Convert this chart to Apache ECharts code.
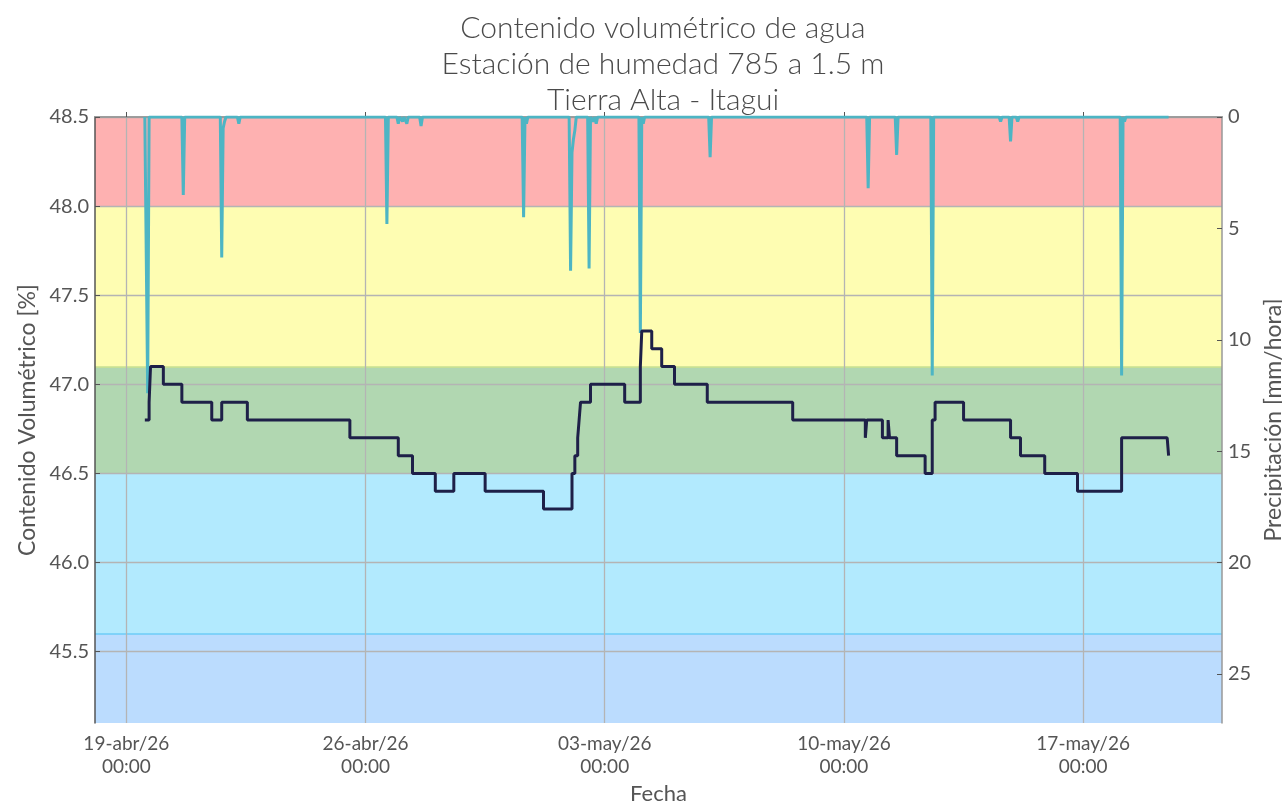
<!DOCTYPE html>
<html>
<head>
<meta charset="utf-8">
<script src="https://cdn.jsdelivr.net/npm/echarts@6/dist/echarts.min.js"></script>
<style>
  html, body { margin: 0; padding: 0; background: #fff; }
  #chart { width: 1282px; height: 807px; }
</style>
</head>
<body>
<div id="chart"></div>
<script>
// humedad (contenido volumétrico, %) - cambios de nivel
const humTimes = [
  '2026-04-19 13:00', '2026-04-19 16:00', '2026-04-19 17:00', '2026-04-20 02:00',
  '2026-04-20 15:00', '2026-04-21 12:00', '2026-04-21 19:00', '2026-04-22 13:00',
  '2026-04-25 13:00', '2026-04-26 23:00', '2026-04-27 09:00', '2026-04-28 01:00',
  '2026-04-28 14:00', '2026-04-29 12:00', '2026-05-01 05:00', '2026-05-02 01:00',
  '2026-05-02 03:00', '2026-05-02 05:00', '2026-05-02 06:00', '2026-05-02 07:00',
  '2026-05-02 14:00', '2026-05-03 14:00', '2026-05-04 01:00', '2026-05-04 02:00',
  '2026-05-04 09:00', '2026-05-04 16:00', '2026-05-05 01:00', '2026-05-06 00:00',
  '2026-05-08 12:00', '2026-05-10 15:00', '2026-05-10 16:00', '2026-05-11 03:00',
  '2026-05-11 07:00', '2026-05-11 08:00', '2026-05-11 13:00', '2026-05-12 09:00',
  '2026-05-12 14:00', '2026-05-12 16:00', '2026-05-13 12:00', '2026-05-14 21:00',
  '2026-05-15 04:00', '2026-05-15 21:00', '2026-05-16 20:00', '2026-05-18 03:00',
  '2026-05-19 11:00', '2026-05-19 12:00'
];
const humValues = [
  46.8, 46.9, 47.1, 47.0,
  46.9, 46.8, 46.9, 46.8,
  46.7, 46.6, 46.5, 46.4,
  46.5, 46.4, 46.3, 46.5,
  46.6, 46.7, 46.8, 46.9,
  47.0, 46.9, 47.1, 47.3,
  47.2, 47.1, 47.0, 46.9,
  46.8, 46.7, 46.8, 46.7,
  46.8, 46.7, 46.6, 46.5,
  46.8, 46.9, 46.8, 46.7,
  46.6, 46.5, 46.4, 46.7,
  46.7, 46.6
];

// precipitación (mm/hora)
const rainTimes = [
  '2026-04-19 13:00', '2026-04-19 14:00', '2026-04-19 15:00', '2026-04-19 16:00',
  '2026-04-20 15:00', '2026-04-20 16:00', '2026-04-20 17:00',
  '2026-04-21 18:00', '2026-04-21 19:00', '2026-04-21 20:00', '2026-04-21 21:00', '2026-04-21 22:00',
  '2026-04-22 06:00', '2026-04-22 07:00', '2026-04-22 08:00',
  '2026-04-26 14:00', '2026-04-26 15:00', '2026-04-26 16:00',
  '2026-04-26 22:00', '2026-04-26 23:00', '2026-04-27 00:00', '2026-04-27 02:00', '2026-04-27 03:00',
  '2026-04-27 04:00', '2026-04-27 05:00', '2026-04-27 06:00',
  '2026-04-27 14:00', '2026-04-27 15:00', '2026-04-27 16:00',
  '2026-04-30 14:00', '2026-04-30 15:00', '2026-04-30 16:00', '2026-04-30 17:00', '2026-04-30 18:00',
  '2026-05-01 23:00', '2026-05-02 00:00', '2026-05-02 01:00', '2026-05-02 02:00', '2026-05-02 03:00', '2026-05-02 04:00',
  '2026-05-02 12:00', '2026-05-02 13:00', '2026-05-02 14:00', '2026-05-02 16:00', '2026-05-02 17:00', '2026-05-02 18:00', '2026-05-02 19:00',
  '2026-05-04 00:00', '2026-05-04 01:00', '2026-05-04 02:00', '2026-05-04 03:00', '2026-05-04 04:00',
  '2026-05-06 01:00', '2026-05-06 02:00', '2026-05-06 03:00',
  '2026-05-10 16:00', '2026-05-10 17:00', '2026-05-10 18:00',
  '2026-05-11 12:00', '2026-05-11 13:00', '2026-05-11 14:00',
  '2026-05-12 13:00', '2026-05-12 14:00', '2026-05-12 15:00',
  '2026-05-14 13:00', '2026-05-14 14:00', '2026-05-14 15:00',
  '2026-05-14 20:00', '2026-05-14 21:00', '2026-05-14 22:00',
  '2026-05-15 01:00', '2026-05-15 02:00', '2026-05-15 03:00',
  '2026-05-18 02:00', '2026-05-18 03:00', '2026-05-18 04:00', '2026-05-18 05:00', '2026-05-18 06:00',
  '2026-05-19 12:00'
];
const rainValues = [
  0, 0, 12.4, 0,
  0, 3.5, 0,
  0, 6.3, 0.5, 0.2, 0,
  0, 0.3, 0,
  0, 4.8, 0,
  0, 0.3, 0, 0.2, 0,
  0, 0.3, 0,
  0, 0.4, 0,
  0, 4.5, 0, 0.3, 0,
  0, 6.9, 1.6, 1.0, 0.6, 0,
  0, 6.8, 0, 0.2, 0, 0.3, 0,
  0, 9.7, 0, 0.3, 0,
  0, 1.8, 0,
  0, 3.2, 0,
  0, 1.7, 0,
  0, 11.6, 0,
  0, 0.2, 0,
  0, 1.1, 0,
  0, 0.2, 0,
  0, 11.6, 0, 0.2, 0,
  0
];

// ejes
const xTickDates = ['2026-04-19 00:00', '2026-04-26 00:00', '2026-05-03 00:00', '2026-05-10 00:00', '2026-05-17 00:00'];
const xMinDate = '2026-04-18 02:00';
const xMaxDate = '2026-05-21 01:30';
const leftTicks = [45.5, 46.0, 46.5, 47.0, 47.5, 48.0, 48.5];
const rightTicks = [0, 5, 10, 15, 20, 25];
const meses = ['ene', 'feb', 'mar', 'abr', 'may', 'jun', 'jul', 'ago', 'sep', 'oct', 'nov', 'dic'];

// franjas de alerta
const bandLimits = [45.1, 45.6, 46.5, 47.1, 48.0, 48.5];
const bandColors = ['#bbdcfe', '#b2eafe', '#b1d7b1', '#fefdb2', '#feb1b1'];

function toTime(s) {
  const [d, h] = s.split(' ');
  const [yy, mm, dd] = d.split('-').map(Number);
  const [hh, mi] = h.split(':').map(Number);
  return new Date(yy, mm - 1, dd, hh, mi).getTime();
}
function pad2(n) { return (n < 10 ? '0' : '') + n; }

const humData = humTimes.map((t, i) => [toTime(t), humValues[i]]);
const rainData = rainTimes.map((t, i) => [toTime(t), rainValues[i]]);
const xTicks = xTickDates.map(toTime);

const bandAreas = [];
for (let i = 0; i < bandColors.length; i++) {
  bandAreas.push([
    { yAxis: bandLimits[i], itemStyle: { color: bandColors[i] } },
    { yAxis: bandLimits[i + 1] }
  ]);
}

const fontFam = 'Lato, "Noto Sans", sans-serif';
const gray = '#555';

const chartNode = document.getElementById('chart');
const myChart = echarts.init(chartNode);
myChart.setOption({
  animation: false,
  textStyle: { fontFamily: fontFam },
  title: {
    text: 'Contenido volumétrico de agua\nEstación de humedad 785 a 1.5 m\nTierra Alta - Itagui',
    left: 658,
    top: 5,
    textAlign: 'center',
    textStyle: {
      fontFamily: fontFam,
      fontSize: 30,
      lineHeight: 36,
      fontWeight: 300,
      color: '#4a4a4a'
    }
  },
  grid: { left: 95, right: 60, top: 117, bottom: 84, outerBoundsMode: 'none', containLabel: false },
  xAxis: [
    {
      type: 'value',
      min: toTime(xMinDate),
      max: toTime(xMaxDate),
      z: 8,
      name: 'Fecha',
      nameLocation: 'middle',
      nameGap: 58,
      nameTextStyle: { fontSize: 22, color: gray, fontFamily: fontFam },
      axisLine: { show: true, lineStyle: { color: gray, width: 1.5 } },
      axisTick: { show: true, inside: true, length: 5, customValues: xTicks, lineStyle: { color: gray } },
      axisLabel: {
        customValues: xTicks,
        fontSize: 19,
        lineHeight: 23,
        color: gray,
        margin: 9,
        formatter: function (v) {
          const d = new Date(v);
          return pad2(d.getDate()) + '-' + meses[d.getMonth()] + '/' + String(d.getFullYear()).slice(2) +
            '\n' + pad2(d.getHours()) + ':' + pad2(d.getMinutes());
        }
      },
      splitLine: { show: true, lineStyle: { color: '#b4b4b4', width: 1.3 } }
    },
    {
      type: 'value',
      position: 'top',
      min: toTime(xMinDate),
      max: toTime(xMaxDate),
      z: 8,
      axisLine: { show: true, lineStyle: { color: '#aaa', width: 1.5 } },
      axisTick: { show: false },
      axisLabel: { show: false },
      splitLine: { show: false }
    }
  ],
  yAxis: [
    {
      type: 'value',
      min: 45.1,
      max: 48.5,
      z: 8,
      name: 'Contenido Volumétrico [%]',
      nameLocation: 'middle',
      nameRotate: 90,
      nameGap: 52,
      nameTextStyle: { fontSize: 23, color: gray, fontFamily: fontFam },
      axisLine: { show: true, lineStyle: { color: gray, width: 1.5 } },
      axisTick: { show: true, inside: true, length: 5, customValues: leftTicks, lineStyle: { color: gray } },
      axisLabel: {
        customValues: leftTicks,
        fontSize: 20,
        color: gray,
        margin: 6,
        formatter: v => v.toFixed(1)
      },
      splitLine: { show: true, lineStyle: { color: '#b4b4b4', width: 1.3 } }
    },
    {
      type: 'value',
      min: 0,
      max: 27.2,
      inverse: true,
      position: 'right',
      z: 8,
      name: 'Precipitación [mm/hora]',
      nameLocation: 'middle',
      nameRotate: 90,
      nameGap: 28,
      nameTextStyle: { fontSize: 23, color: gray, fontFamily: fontFam },
      axisLine: { show: true, lineStyle: { color: '#999', width: 1.5 } },
      axisTick: { show: true, inside: true, length: 5, customValues: rightTicks, lineStyle: { color: gray } },
      axisLabel: { customValues: rightTicks, fontSize: 20, color: gray, margin: 6 },
      splitLine: { show: false }
    }
  ],
  series: [
    {
      name: 'franjas',
      type: 'line',
      z: 0,
      xAxisIndex: 0,
      yAxisIndex: 0,
      data: humData,
      showSymbol: false,
      silent: true,
      lineStyle: { width: 0, opacity: 0 },
      markArea: { silent: true, z: 0, data: bandAreas },
      markLine: {
        silent: true,
        z: 0,
        symbol: 'none',
        label: { show: false },
        data: [
          { yAxis: 45.6, lineStyle: { color: '#6dcdf7', width: 1.5, type: 'solid' } },
          { yAxis: 47.1, lineStyle: { color: '#cde38c', width: 1.5, type: 'solid' } }
        ]
      }
    },
    {
      name: 'Precipitación',
      type: 'line',
      z: 10,
      xAxisIndex: 0,
      yAxisIndex: 1,
      data: rainData,
      showSymbol: false,
      lineStyle: { color: '#4db5c4', width: 3 },
      itemStyle: { color: '#4db5c4' }
    },
    {
      name: 'Contenido volumétrico',
      type: 'line',
      z: 11,
      xAxisIndex: 0,
      yAxisIndex: 0,
      step: 'end',
      data: humData,
      showSymbol: false,
      lineStyle: { color: '#1e2048', width: 3 },
      itemStyle: { color: '#1e2048' }
    }
  ]
});
</script>
</body>
</html>
